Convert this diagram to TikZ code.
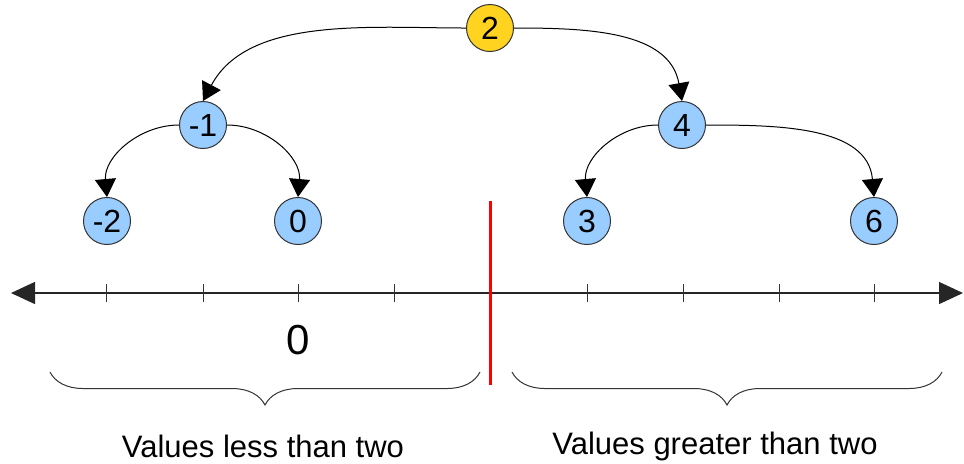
\documentclass[tikz,border=0pt]{standalone}
\usepackage{fontspec}
\setmainfont{Liberation Sans}
\usepackage{xcolor}
\usepackage{tikz}
\usetikzlibrary{arrows.meta,positioning,decorations.pathreplacing}

\definecolor{rootgold}{HTML}{FFD320}
\definecolor{leafblue}{HTML}{99CCFF}

\begin{document}
\begin{tikzpicture}[
  x=0.5pt, y=-0.5pt,
  tnode/.style={circle, draw=black!80, line width=0.5pt, fill=leafblue, minimum size=23.5pt, inner sep=0pt, font=\fontsize{16}{19}\selectfont},
  root/.style={tnode, fill=rootgold},
  arrow/.style={-{Triangle[length=9pt, width=10.5pt]}, line width=0.5pt, black},
  axis/.style={{Triangle[length=12pt, width=11pt]}-{Triangle[length=12pt, width=11pt]}, line width=0.7pt, black!85},
  bracket/.style={decorate, decoration={brace, mirror, amplitude=16.5pt}, line width=0.5pt, black!80},
  caption/.style={font=\fontsize{15.5}{18}\selectfont}
]
\useasboundingbox (0,0) rectangle (964,463);

% tree
\node[root] (two) at (490,28) {2};
\node[tnode] (mone) at (203,125) {-1};
\node[tnode] (four) at (682,125) {4};
\node[tnode] (mtwo) at (107,221) {-2};
\node[tnode] (zero) at (298,221) {0};
\node[tnode] (three) at (587,221) {3};
\node[tnode] (six) at (874,221) {6};

\draw[arrow] (two.west) to[out=180, in=62, looseness=0.9] (mone.north);
\draw[arrow] (two.east) to[out=0, in=100] (four.north);
\draw[arrow] (mone.west) to[out=180, in=95] (mtwo.north);
\draw[arrow] (mone.east) to[out=0, in=85] (zero.north);
\draw[arrow] (four.west) to[out=180, in=95] (three.north);
\draw[arrow] (four.east) to[out=0, in=95] (six.north);

% number line
\coordinate (lineL) at (11,293);
\coordinate (lineR) at (963,293);
\draw[axis] (lineL) -- (lineR);
\foreach \x in {106,203,298,394,587,683,779,874}
  \draw[line width=0.5pt, black!80] (\x,284) -- (\x,302);

% split
\coordinate (splitT) at (490,201);
\coordinate (splitB) at (490,385);
\draw[red, line width=1.5pt] (splitT) -- (splitB);

\node[font=\fontsize{21}{25}\selectfont] (zlabel) at (298,340) {0};

% braces
\coordinate (lbA) at (50,372);
\coordinate (lbB) at (480,372);
\coordinate (rbA) at (512,372);
\coordinate (rbB) at (942,372);
\draw[bracket] (lbA) -- (lbB);
\draw[bracket] (rbA) -- (rbB);

\node[caption] (less) at (263,446) {Values less than two};
\node[caption] (more) at (715,446) {Values greater than two};
\end{tikzpicture}
\end{document}
